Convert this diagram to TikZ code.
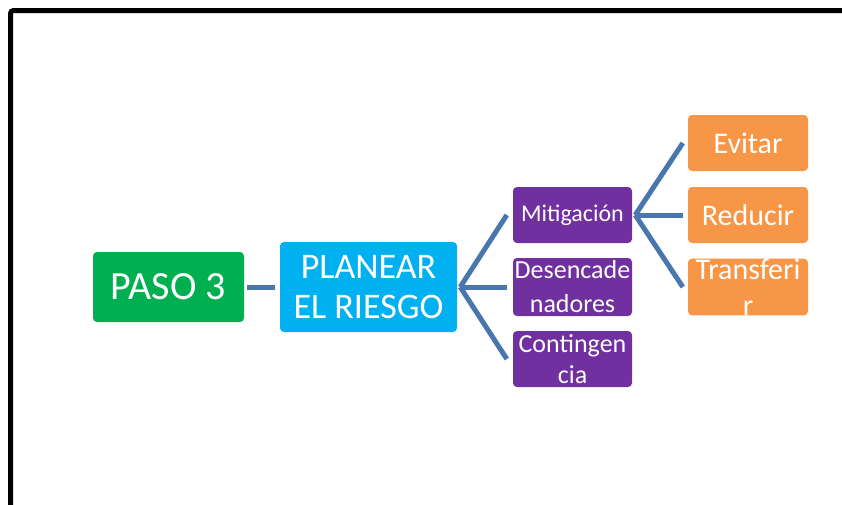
\documentclass[tikz,border=0pt]{standalone}
\usepackage{fontspec}
\setmainfont{Carlito}
\usepackage{tikz}
\usetikzlibrary{calc}
\definecolor{pasogreen}{HTML}{00B050}
\definecolor{planblue}{HTML}{00B0F0}
\definecolor{subpurple}{HTML}{7030A0}
\definecolor{leaforange}{HTML}{F79646}
\definecolor{linkblue}{HTML}{4A76AE}

\begin{document}
\begin{tikzpicture}[x=1pt, y=-1pt,
  box/.style={rounded corners=4pt, inner sep=0pt, text=white, align=center},
  subbox/.style={box, fill=subpurple, minimum width=119pt, minimum height=56pt, font=\fontsize{24}{33}\selectfont},
  leafbox/.style={box, fill=leaforange, minimum width=120pt, minimum height=56pt, font=\fontsize{30}{36}\selectfont},
  link/.style={line width=5pt, linkblue}]
  \useasboundingbox (0,0) rectangle (842,504);
  \draw[line width=5pt, rounded corners=3pt] (10.5,530) -- (10.5,10.5) -- (870,10.5);

  \node[box, fill=pasogreen, minimum width=151pt, minimum height=70pt, font=\fontsize{40}{48}\selectfont] (paso) at (168.5,287) {PASO 3};
  \node[box, fill=planblue, minimum width=177pt, minimum height=90pt, font=\fontsize{36}{40}\selectfont] (plan) at (368.5,287) {PLANEAR\\EL RIESGO};

  \node[subbox] (mitig) at (572.5,215) {Mitigación};
  \node[subbox, minimum height=58pt, font=\fontsize{26}{34}\selectfont] (desen) at (572.5,287) {Desencade\\nadores};
  \node[subbox, font=\fontsize{26}{31}\selectfont] (conti) at (572.5,359) {Contingen\\cia};

  \node[leafbox] (evitar) at (748,143) {Evitar};
  \node[leafbox] (reducir) at (748,215) {Reducir};
  \node[leafbox] (transf) at (748,287) {Transferi\\r};

  \draw[link] ([xshift=3pt]paso.east) -- ([xshift=-5pt]plan.west);
  \foreach \n in {mitig,desen,conti}{
    \draw[link] ([xshift=3pt]plan.east) -- ([xshift=-6pt]\n.west);
  }
  \foreach \n in {evitar,reducir,transf}{
    \draw[link] ([xshift=3pt]mitig.east) -- ([xshift=-5pt]\n.west);
  }
\end{tikzpicture}
\end{document}
